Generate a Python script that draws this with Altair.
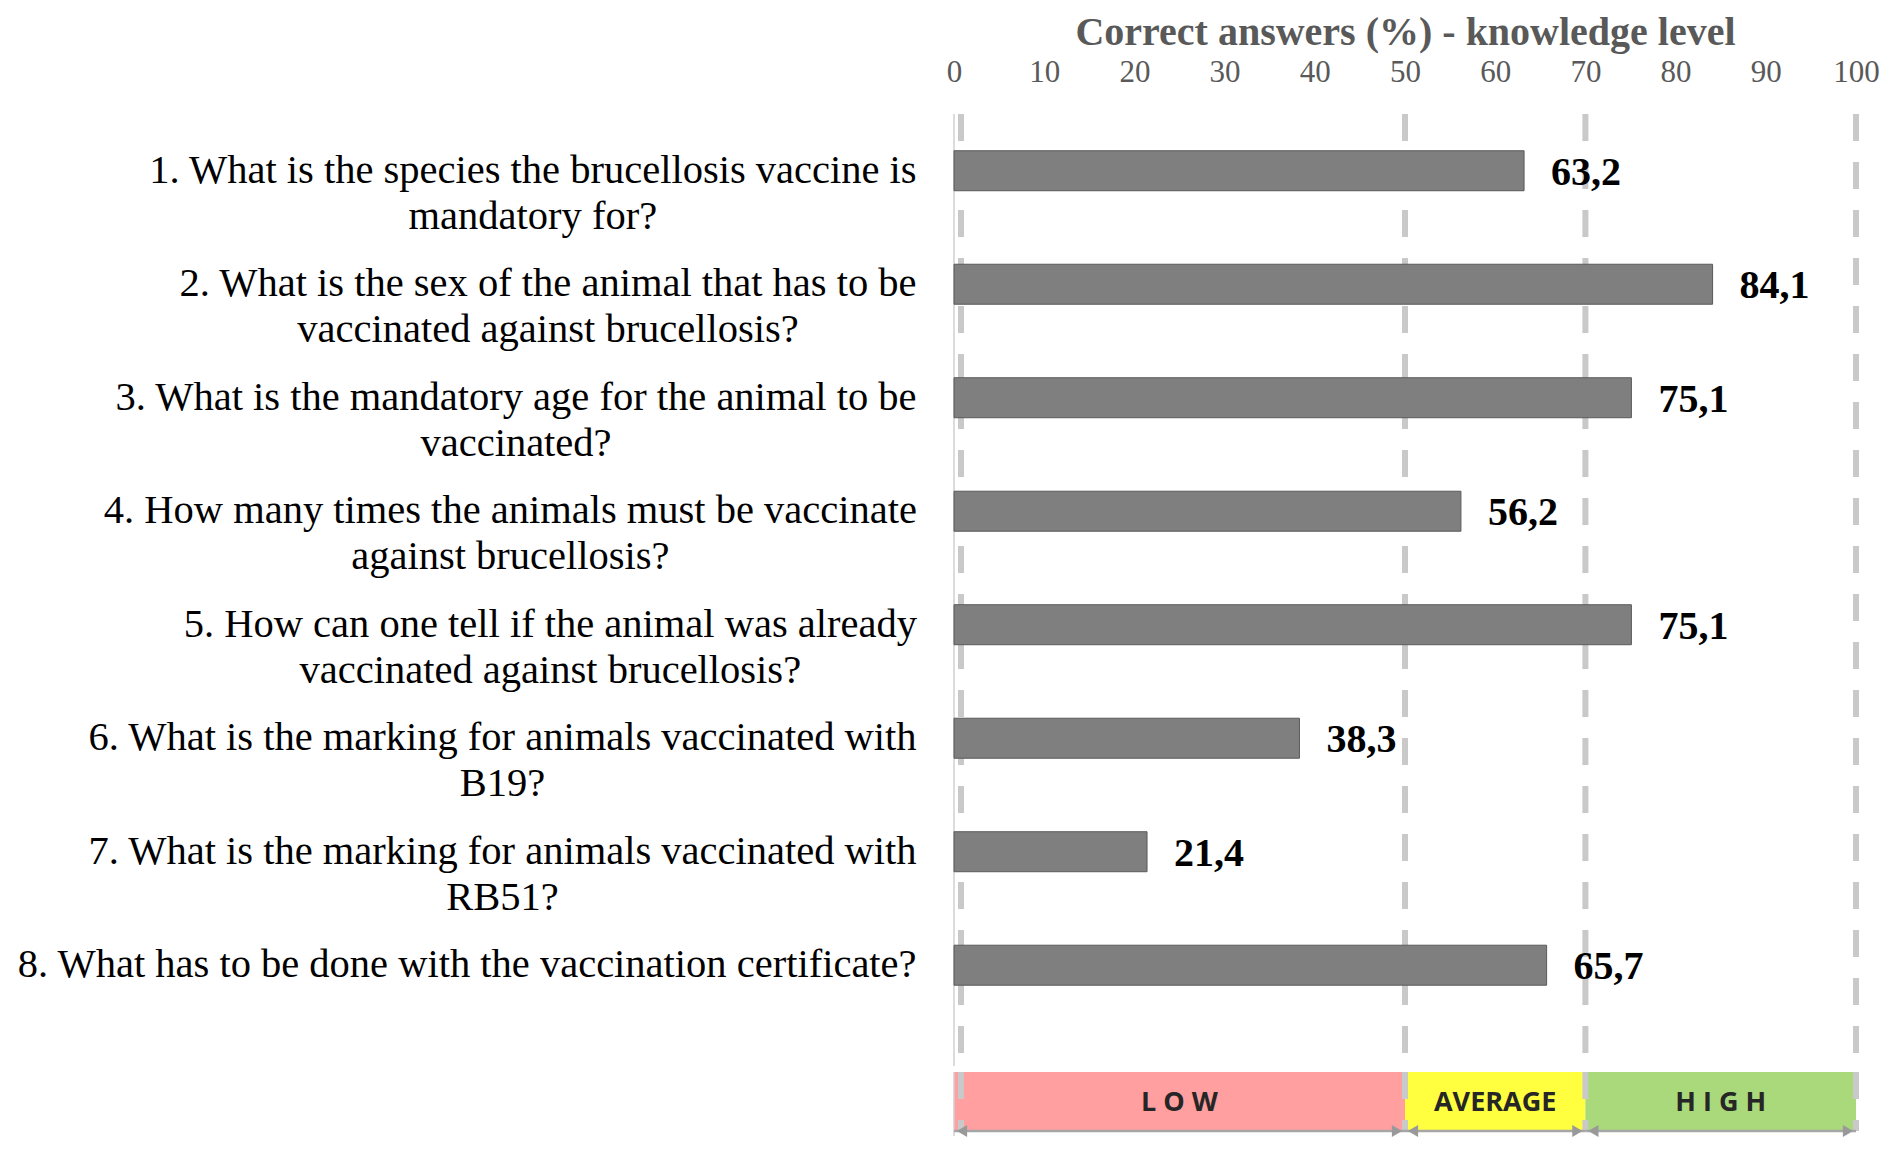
import altair as alt
import pandas as pd

# ---------------- data ----------------
question_line1 = [
    "1. What is the species the brucellosis vaccine is",
    "2. What is the sex of the animal that has to be",
    "3. What is the mandatory age for the animal to be",
    "4. How many times the animals must be vaccinate",
    "5. How can one tell if the animal was already",
    "6. What is the marking for animals vaccinated with",
    "7. What is the marking for animals vaccinated with",
    "8. What has to be done with the vaccination certificate?",
]
question_line2 = [
    "mandatory for?",
    "vaccinated against brucellosis?",
    "vaccinated?",
    "against brucellosis?",
    "vaccinated against brucellosis?",
    "B19?",
    "RB51?",
    "",
]
correct_pct = [63.2, 84.1, 75.1, 56.2, 75.1, 38.3, 21.4, 65.7]
tick_values = [0, 10, 20, 30, 40, 50, 60, 70, 80, 90, 100]
level_labels = ["L O W", "AVERAGE", "H I G H"]
level_start = [0, 50, 70]
level_end = [50, 70, 100]
threshold_values = [50, 70, 100]
axis_zero = [0]

# ---------------- styles ----------------
level_colors = ["#ff9f9f", "#ffff3f", "#a9d97b"]
SERIF = "Liberation Serif"
SANS = "Open Sans"
W = 902
H_TOP = 952
H_BAND = 59
LABEL_GAP = 37
LABEL_SIZE = 40.5
PX_PER_UNIT = W / 100.0
GRID_COLOR = "#c9c9c9"
DASH = [27, 21]

# Times / Liberation Serif advance widths (per 1000 em) to centre the
# second line of each category label under its right-aligned first line
_TIMES = dict(zip("abcdefghijklmnopqrstuvwxyz",
                  [444, 500, 444, 500, 444, 333, 500, 500, 278, 278, 500, 278, 778,
                   500, 500, 500, 500, 333, 389, 278, 500, 500, 722, 500, 500, 444]))
_TIMES.update(zip("ABCDEFGHIJKLMNOPQRSTUVWXYZ",
                  [722, 667, 667, 722, 611, 556, 722, 722, 333, 389, 722, 611, 889,
                   722, 722, 556, 722, 667, 556, 611, 722, 722, 944, 722, 722, 611]))
_TIMES.update({c: 500 for c in "0123456789"})
_TIMES.update({" ": 250, ".": 250, ",": 250, "?": 444, "-": 333})


def times_width(s, size):
    return sum(_TIMES.get(c, 500) for c in s) / 1000.0 * size


qdf = pd.DataFrame({
    "key": question_line1,
    "text": [a + ("\n" + b if b else "") for a, b in zip(question_line1, question_line2)],
    "value": correct_pct,
    "lab_x": [-(LABEL_GAP + times_width(a, LABEL_SIZE) / 2.0) / PX_PER_UNIT
              for a in question_line1],
})
grid_df = pd.DataFrame({"g": threshold_values})
zero_df = pd.DataFrame({"g": axis_zero})
lvl_df = pd.DataFrame({"level": level_labels, "start": level_start, "end": level_end})

xscale = alt.Scale(domain=[0, 100], nice=False, zero=False)
xaxis = alt.Axis(
    orient="top", values=tick_values, title="Correct answers (%) - knowledge level",
    domain=False, ticks=False, tickSize=0, grid=False, labelFlush=False,
    labelFont=SERIF, labelFontSize=31, labelColor="#595959", labelPadding=26,
    titleFont=SERIF, titleFontSize=40, titleFontWeight="bold", titleColor="#595959",
    titlePadding=4,
)
yenc = alt.Y("key:N", sort=question_line1,
             scale=alt.Scale(paddingInner=0, paddingOuter=0.194, align=0), axis=None)

grid_top = alt.Chart(grid_df).mark_rule(
    color=GRID_COLOR, strokeWidth=6, strokeDash=DASH
).encode(x=alt.X("g:Q", scale=xscale, axis=xaxis))
grid_top0 = alt.Chart(zero_df).mark_rule(
    color=GRID_COLOR, strokeWidth=6, strokeDash=DASH, xOffset=7
).encode(x=alt.X("g:Q", scale=xscale, axis=xaxis))
axis_line_top = alt.Chart(zero_df).mark_rule(
    color="#d0d0d0", strokeWidth=1.5
).encode(x=alt.X("g:Q", scale=xscale, axis=xaxis))

bars = alt.Chart(qdf).mark_bar(
    size=40, color="#7f7f7f", stroke="#5a5a5a", strokeWidth=1
).encode(x=alt.X("value:Q", scale=xscale, axis=xaxis), y=yenc)

values_txt = alt.Chart(qdf).transform_calculate(
    lbl="replace(format(datum.value, '.1f'), '.', ',')"
).mark_text(
    align="left", baseline="middle", dx=27, dy=2, font=SERIF, fontSize=40,
    fontWeight="bold", color="black"
).encode(x=alt.X("value:Q", scale=xscale, axis=xaxis), y=yenc, text="lbl:N")

cat_txt = alt.Chart(qdf).mark_text(
    align="center", baseline="middle", lineBreak="\n", lineHeight=46,
    font=SERIF, fontSize=LABEL_SIZE, color="black"
).encode(x=alt.X("lab_x:Q", scale=xscale, axis=xaxis), y=yenc, text="text:N")

top = alt.layer(grid_top, grid_top0, axis_line_top, bars, values_txt, cat_txt).properties(
    width=W, height=H_TOP
)

# ---------------- level band ----------------
color_scale = alt.Scale(domain=level_labels, range=level_colors)
band_rect = alt.Chart(lvl_df).mark_rect().encode(
    x=alt.X("start:Q", scale=xscale, axis=None), x2="end:Q",
    color=alt.Color("level:N", scale=color_scale, legend=None),
)
grid_bot = alt.Chart(grid_df).mark_rule(
    color=GRID_COLOR, strokeWidth=6, strokeDash=DASH
).encode(x=alt.X("g:Q", scale=xscale, axis=None))
grid_bot0 = alt.Chart(zero_df).mark_rule(
    color=GRID_COLOR, strokeWidth=6, strokeDash=DASH, xOffset=7
).encode(x=alt.X("g:Q", scale=xscale, axis=None))
axis_line_bot = alt.Chart(zero_df).mark_rule(
    color="#d0d0d0", strokeWidth=1.5
).encode(x=alt.X("g:Q", scale=xscale, axis=None), y=alt.value(0), y2=alt.value(H_BAND + 5))
band_txt = alt.Chart(lvl_df).transform_calculate(
    mid="(datum.start + datum.end) / 2"
).mark_text(
    align="center", baseline="middle", font=SANS, fontSize=27, fontWeight="bold",
    color="#262626"
).encode(x=alt.X("mid:Q", scale=xscale, axis=None), y=alt.value(H_BAND / 2 + 1), text="level:N")
arrow_line = alt.Chart(lvl_df).mark_rule(color="#a6a6a6", strokeWidth=2.5).encode(
    x=alt.X("start:Q", scale=xscale, axis=None), x2="end:Q", y=alt.value(H_BAND)
)
arrow_l = alt.Chart(lvl_df).mark_point(
    shape="triangle-left", filled=True, size=140, color="#999999", opacity=1, xOffset=8
).encode(x=alt.X("start:Q", scale=xscale, axis=None), y=alt.value(H_BAND))
arrow_r = alt.Chart(lvl_df).mark_point(
    shape="triangle-right", filled=True, size=140, color="#999999", opacity=1, xOffset=-8
).encode(x=alt.X("end:Q", scale=xscale, axis=None), y=alt.value(H_BAND))

bottom = alt.layer(band_rect, grid_bot, grid_bot0, axis_line_bot, band_txt,
                   arrow_line, arrow_l, arrow_r).properties(width=W, height=H_BAND)

chart = alt.vconcat(top, bottom, spacing=0).properties(
    padding={"left": 9, "top": 4, "right": 0, "bottom": 0},
    background="white",
).configure_view(strokeWidth=0)

chart.save("out.html", embed_options={"renderer": "svg", "actions": False})
